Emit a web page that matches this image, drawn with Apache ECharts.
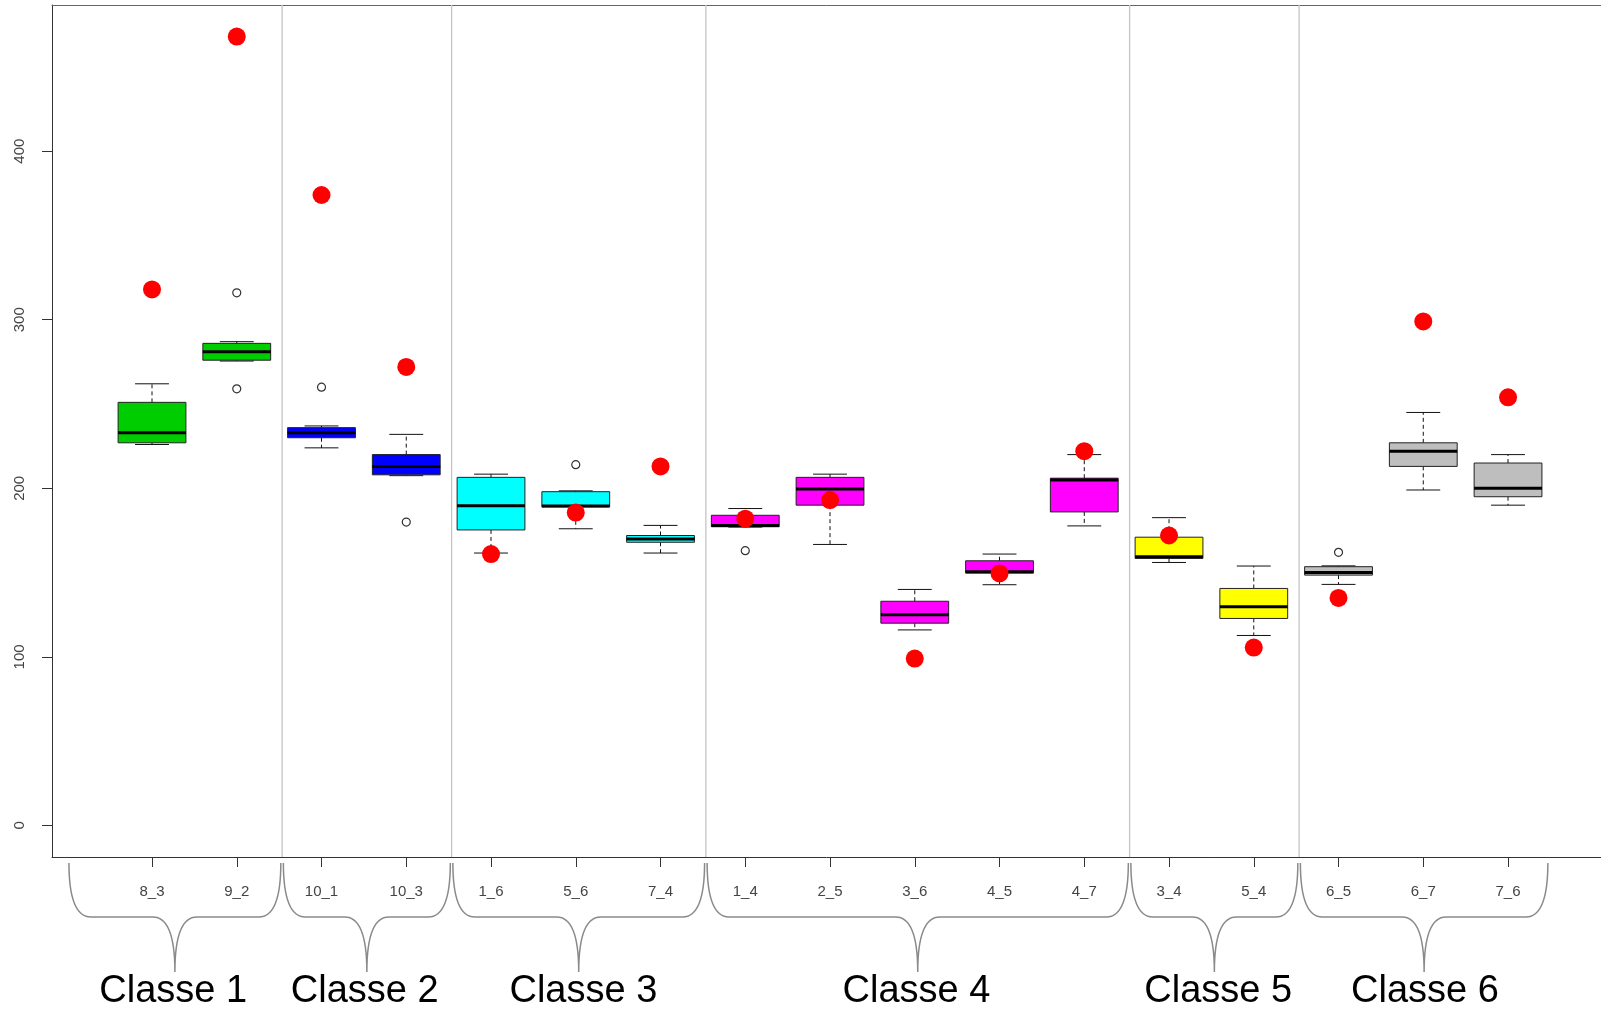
<!DOCTYPE html>
<html>
<head>
<meta charset="utf-8">
<title>Boxplot par classe</title>
<script src="https://cdn.jsdelivr.net/npm/echarts@6/dist/echarts.min.js"></script>
<style>
  html, body { margin: 0; padding: 0; background: #fff; }
  #chart { width: 1601px; height: 1010px; }
</style>
</head>
<body>
<div id="chart"></div>
<script>
// categories (x positions 1..17)
var categories = ['8_3', '9_2', '10_1', '10_3', '1_6', '5_6', '7_4', '1_4', '2_5', '3_6', '4_5', '4_7', '3_4', '5_4', '6_5', '6_7', '7_6'];
// box stats: [min, q1, median, q3, max]
var boxStats = [
  [226, 227, 233, 251, 262],
  [275.5, 276, 281, 286, 287],
  [224, 230, 233, 236, 237],
  [207.5, 208, 213, 220, 232],
  [161.6, 175.3, 189.7, 206.5, 208.4],
  [176, 189, 189.5, 198, 198.5],
  [161.6, 168, 170, 172, 178],
  [177, 177.2, 178, 184, 188],
  [166.7, 190, 199.6, 206.5, 208.4],
  [116, 120, 125, 133, 140],
  [142.8, 149.7, 150.5, 157, 161],
  [177.7, 186, 205, 206, 220],
  [156, 158.4, 159.4, 171, 182.6],
  [112.7, 122.8, 129.7, 140.6, 153.9],
  [143, 148.5, 150, 153.5, 154],
  [199, 213, 222, 227, 245],
  [190, 195, 200, 215, 220]
];
// class of each category (index into classNames)
var classOf = [0, 0, 1, 1, 2, 2, 2, 3, 3, 3, 3, 3, 4, 4, 5, 5, 5];
var classColors = ['#00cd00', '#0000ff', '#00ffff', '#ff00ff', '#ffff00', '#bebebe'];
var classNames = ['Classe 1', 'Classe 2', 'Classe 3', 'Classe 4', 'Classe 5', 'Classe 6'];
// brace extents and class-name centres on the x scale
var classSpans = [[0.02, 2.52], [2.55, 4.52], [4.55, 7.52], [7.55, 12.52], [12.55, 14.52], [14.55, 17.47]];
var classLabelX = [1.25, 3.51, 6.09, 10.02, 13.58, 16.02];
var separators = [2.535, 4.535, 7.535, 12.535, 14.535];
// outliers: [category position, value]
var outliers = [[2, 316], [2, 259], [3, 260], [4, 180], [6, 214], [8, 163], [15, 162]];
// red observed values, one per category
var observed = [318, 468, 374, 272, 161, 185.6, 213, 182, 193, 99, 149.5, 222, 172, 105.5, 135, 299, 254];
var yTicks = [0, 100, 200, 300, 400];

var yMin = -18.72, yMax = 486.72;
var xMin = -0.18, xMax = 18.097;
var positions = categories.map(function (c, i) { return i + 1; });

var boxData = boxStats.map(function (s, i) { return [i + 1].concat(s); });
var redData = observed.map(function (v, i) { return [i + 1, v]; });
var sepData = separators.map(function (s) { return [s, yMin, yMax]; });
var braceData = classSpans.map(function (s, i) { return [s[0], s[1], i, classLabelX[i]]; });

var tickFont = 'Liberation Sans, Arial, sans-serif';

var myChart = echarts.init(document.getElementById('chart'));

var option = {
  animation: false,
  grid: { left: 52, top: 5, width: 1549, height: 852, show: false },
  xAxis: [
    {
      type: 'value', min: xMin, max: xMax, position: 'bottom',
      axisLine: { show: true, onZero: false, lineStyle: { color: '#333', width: 1 } },
      splitLine: { show: false },
      axisTick: { show: true, length: 10, customValues: positions, lineStyle: { color: '#333' } },
      axisLabel: {
        customValues: positions, margin: 27,
        color: '#444', fontSize: 15, fontFamily: tickFont,
        formatter: function (v) { return categories[Math.round(v) - 1]; }
      }
    },
    {
      // top edge of the plot box
      type: 'value', min: xMin, max: xMax, position: 'top',
      axisLine: { show: true, onZero: false, lineStyle: { color: '#666', width: 1 } },
      splitLine: { show: false }, axisTick: { show: false }, axisLabel: { show: false }
    }
  ],
  yAxis: {
    type: 'value', min: yMin, max: yMax,
    axisLine: { show: true, onZero: false, lineStyle: { color: '#333', width: 1 } },
    splitLine: { show: false },
    axisTick: { show: true, length: 10, customValues: yTicks, lineStyle: { color: '#333' } },
    axisLabel: {
      customValues: yTicks, rotate: 90, margin: 25,
      color: '#444', fontSize: 15, fontFamily: tickFont
    }
  },
  series: [
    {
      // group separators
      type: 'custom',
      data: sepData,
      silent: true,
      renderItem: function (params, api) {
        var p1 = api.coord([api.value(0), api.value(1)]);
        var p2 = api.coord([api.value(0), api.value(2)]);
        return {
          type: 'line',
          shape: { x1: p1[0], y1: p1[1], x2: p2[0], y2: p2[1] },
          style: { stroke: '#c4c4c4', lineWidth: 1.3 }
        };
      }
    },
    {
      // boxes
      type: 'custom',
      data: boxData,
      encode: { x: 0, y: [1, 2, 3, 4, 5] },
      renderItem: function (params, api) {
        var x = api.value(0);
        var col = classColors[classOf[params.dataIndex]];
        var halfW = api.size([0.8, 0])[0] / 2;
        var capW = halfW / 2;
        var pMin = api.coord([x, api.value(1)]);
        var pQ1 = api.coord([x, api.value(2)]);
        var pMed = api.coord([x, api.value(3)]);
        var pQ3 = api.coord([x, api.value(4)]);
        var pMax = api.coord([x, api.value(5)]);
        var cx = pMed[0];
        var dash = { stroke: '#111', lineWidth: 1, lineDash: [4, 3] };
        var solid = { stroke: '#111', lineWidth: 1 };
        return {
          type: 'group',
          children: [
            { type: 'line', shape: { x1: cx, y1: pQ3[1], x2: cx, y2: pMax[1] }, style: dash },
            { type: 'line', shape: { x1: cx, y1: pQ1[1], x2: cx, y2: pMin[1] }, style: dash },
            { type: 'line', shape: { x1: cx - capW, y1: pMax[1], x2: cx + capW, y2: pMax[1] }, style: solid },
            { type: 'line', shape: { x1: cx - capW, y1: pMin[1], x2: cx + capW, y2: pMin[1] }, style: solid },
            {
              type: 'rect',
              shape: { x: cx - halfW, y: pQ3[1], width: halfW * 2, height: pQ1[1] - pQ3[1] },
              style: { fill: col, stroke: '#222', lineWidth: 1 }
            },
            { type: 'line', shape: { x1: cx - halfW, y1: pMed[1], x2: cx + halfW, y2: pMed[1] }, style: { stroke: '#000', lineWidth: 3 } }
          ]
        };
      }
    },
    {
      type: 'scatter',
      data: outliers,
      symbol: 'circle',
      symbolSize: 8,
      itemStyle: { color: '#fff', borderColor: '#333', borderWidth: 1.2, opacity: 1 }
    },
    {
      type: 'scatter',
      data: redData,
      symbol: 'circle',
      symbolSize: 18,
      itemStyle: { color: '#ff0000', opacity: 1 }
    },
    {
      // braces and class names under the axis
      type: 'custom',
      data: braceData,
      clip: false,
      silent: true,
      renderItem: function (params, api) {
        var xL = api.coord([api.value(0), yMin])[0];
        var xR = api.coord([api.value(1), yMin])[0];
        var xText = api.coord([api.value(3), yMin])[0];
        var yAxisPx = api.coord([api.value(0), yMin])[1];
        var xm = (xL + xR) / 2;
        var yT = yAxisPx + 6, yH = yAxisPx + 60, yTip = yAxisPx + 115;
        var r = 22;
        var d = 'M' + xL + ' ' + yT +
          ' Q' + xL + ' ' + yH + ' ' + (xL + r) + ' ' + yH +
          ' L' + (xm - r) + ' ' + yH +
          ' Q' + xm + ' ' + yH + ' ' + xm + ' ' + yTip +
          ' Q' + xm + ' ' + yH + ' ' + (xm + r) + ' ' + yH +
          ' L' + (xR - r) + ' ' + yH +
          ' Q' + xR + ' ' + yH + ' ' + xR + ' ' + yT;
        return {
          type: 'group',
          children: [
            { type: 'path', shape: { pathData: d }, style: { fill: 'none', stroke: '#8a8a8a', lineWidth: 1.5 } },
            {
              type: 'text',
              style: {
                x: xText, y: yAxisPx + 135,
                text: classNames[api.value(2)],
                fill: '#000',
                font: '38px "Liberation Sans", Arial, sans-serif',
                textAlign: 'center', textVerticalAlign: 'middle'
              }
            }
          ]
        };
      }
    }
  ]
};

myChart.setOption(option);
</script>
</body>
</html>
